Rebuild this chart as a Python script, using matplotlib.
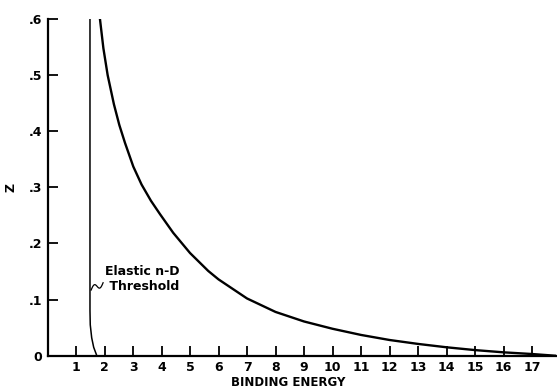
import matplotlib
matplotlib.use("Agg")
import matplotlib.pyplot as plt
import numpy as np

# binding energy vs Z curve
energy = [1.84, 1.96, 2.11, 2.33, 2.52, 2.72, 3.01, 3.30, 3.63, 3.95, 4.41, 5.0,
          5.64, 6.0, 7.0, 8.0, 9.0, 10.0, 11.0, 12.0, 13.0, 14.0, 15.0, 16.0,
          17.0, 17.8]
z_vals = [0.60, 0.548, 0.500, 0.448, 0.411, 0.379, 0.337, 0.305, 0.276, 0.252,
          0.219, 0.183, 0.151, 0.136, 0.102, 0.078, 0.061, 0.048, 0.037, 0.028,
          0.021, 0.015, 0.010, 0.006, 0.003, 0.0]

# elastic n-D threshold
thr_energy = [1.49, 1.49, 1.50, 1.55, 1.62, 1.73]
thr_z = [0.60, 0.08, 0.055, 0.032, 0.015, 0.0]

xticks = list(range(1, 18))
yticks = [0, 0.1, 0.2, 0.3, 0.4, 0.5, 0.6]
ytick_labels = ["0", ".1", ".2", ".3", ".4", ".5", ".6"]

fig = plt.figure(figsize=(5.57, 3.92), dpi=100)
ax = fig.add_axes([0.0853, 0.0926, 0.921, 0.859])

ax.plot(energy, z_vals, color="black", lw=1.7, solid_joinstyle="round")
ax.plot(thr_energy, thr_z, color="black", lw=1.1)

ax.set_xlim(0, 18)
ax.set_ylim(0, 0.6)
for s in ["top", "right"]:
    ax.spines[s].set_visible(False)
for s in ["left", "bottom"]:
    ax.spines[s].set_linewidth(1.6)

ax.set_xticks(xticks)
ax.set_xticklabels([str(t) for t in xticks])
ax.set_yticks(yticks)
ax.set_yticklabels(ytick_labels)
ax.tick_params(direction="in", length=7.5, width=1.3, labelsize=9, pad=4)
for lab in ax.get_xticklabels() + ax.get_yticklabels():
    lab.set_fontweight("bold")

ax.set_xlabel("BINDING ENERGY", fontsize=8.5, fontweight="bold", va="center")
ax.xaxis.set_label_coords(0.47, -0.08)
ax.set_ylabel("Z", fontsize=9, fontweight="bold")
ax.yaxis.set_label_coords(-0.058, 0.5)

# squiggle pointing at the threshold line
t = np.linspace(0, 1, 30)
sq_x = 1.53 + 0.42 * t
sq_z = 0.117 + 0.013 * t + 0.006 * np.sin(2 * np.pi * t)
ax.plot(sq_x, sq_z, color="black", lw=0.9)
ax.text(2.02, 0.137, "Elastic n-D\n Threshold", fontsize=9, fontweight="bold",
        va="center", ha="left", linespacing=1.2)

fig.savefig("out.png", dpi=100)
